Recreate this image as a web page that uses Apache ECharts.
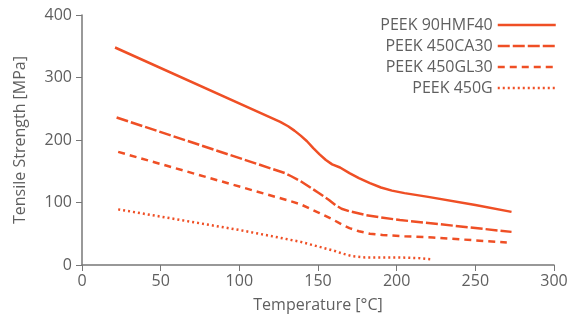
<!DOCTYPE html>
<html>
<head>
<meta charset="utf-8">
<script src="https://cdn.jsdelivr.net/npm/echarts@6/dist/echarts.min.js"></script>
<style>
  html, body { margin: 0; padding: 0; background: #fff; }
  #chart { width: 574px; height: 320px; }
</style>
</head>
<body>
<div id="chart"></div>
<script>
// temperature [°C] / tensile strength [MPa]
const hmf40 = [[21, 348], [126, 229], [131, 222], [135, 215], [139, 207], [143, 198], [147, 187], [151, 177], [155, 168], [159, 161], [164, 156], [170, 147], [176, 139], [183, 131], [190, 124], [197, 119], [205, 115], [220, 109], [250, 96], [273, 85]]
const ca30 = [[22, 236], [129, 147], [133, 142], [139, 134], [150, 116], [157, 104], [161, 96], [165, 90], [170, 86], [180, 80], [190, 76], [202, 72], [273, 53]]
const gl30 = [[23, 181], [130, 104], [134, 101], [139, 97], [151, 83], [160, 72], [165, 65], [170, 59], [176, 54], [183, 50], [191, 48], [205, 46], [223, 44], [270, 36]]
const g450 = [[23, 89], [100, 56], [125, 44], [139, 37], [151, 29], [160, 23], [166, 18], [172, 14], [180, 12], [202, 12], [214, 11], [222, 9]]

const names = ['PEEK 90HMF40', 'PEEK 450CA30', 'PEEK 450GL30', 'PEEK 450G']
const seriesData = [hmf40, ca30, gl30, g450]
const dashes = ['solid', [12, 3], [7, 5], [2, 3]]

const color = '#ef4f25'
const textColor = '#5f5f5f'
const axisColor = '#777'

let myChart = echarts.init(document.getElementById('chart'))
myChart.setOption({
  animation: false,
  textStyle: { fontFamily: 'Open Sans' },
  grid: { left: 82, right: 20, top: 15, bottom: 55 },
  legend: {
    orient: 'vertical',
    right: 12,
    top: 12,
    align: 'right',
    itemWidth: 58,
    itemHeight: 14,
    itemGap: 5,
    itemStyle: { opacity: 0 },
    lineStyle: { width: 2.5 },
    textStyle: { fontSize: 16, color: textColor, fontFamily: 'Open Sans' },
    data: names
  },
  xAxis: {
    type: 'value',
    min: 0,
    max: 300,
    interval: 50,
    name: 'Temperature [°C]',
    nameLocation: 'middle',
    nameGap: 32,
    nameTextStyle: { fontSize: 16, color: textColor },
    axisLine: { lineStyle: { color: axisColor, width: 1.5 } },
    axisTick: { lineStyle: { color: axisColor }, length: 6 },
    axisLabel: { fontSize: 16, color: textColor, margin: 8 },
    splitLine: { show: false }
  },
  yAxis: {
    type: 'value',
    min: 0,
    max: 400,
    interval: 100,
    name: 'Tensile Strength [MPa]',
    nameLocation: 'middle',
    nameGap: 54,
    nameTextStyle: { fontSize: 16, color: textColor },
    axisLine: { show: true, lineStyle: { color: axisColor, width: 1.5 } },
    axisTick: { show: true, lineStyle: { color: axisColor }, length: 6 },
    axisLabel: { fontSize: 16, color: textColor, margin: 10 },
    splitLine: { show: false }
  },
  series: names.map((n, i) => ({
    name: n,
    type: 'line',
    data: seriesData[i],
    smooth: false,
    showSymbol: false,
    symbol: 'none',
    color: color,
    lineStyle: { color: color, width: 2.5, type: dashes[i] }
  }))
})
</script>
</body>
</html>
